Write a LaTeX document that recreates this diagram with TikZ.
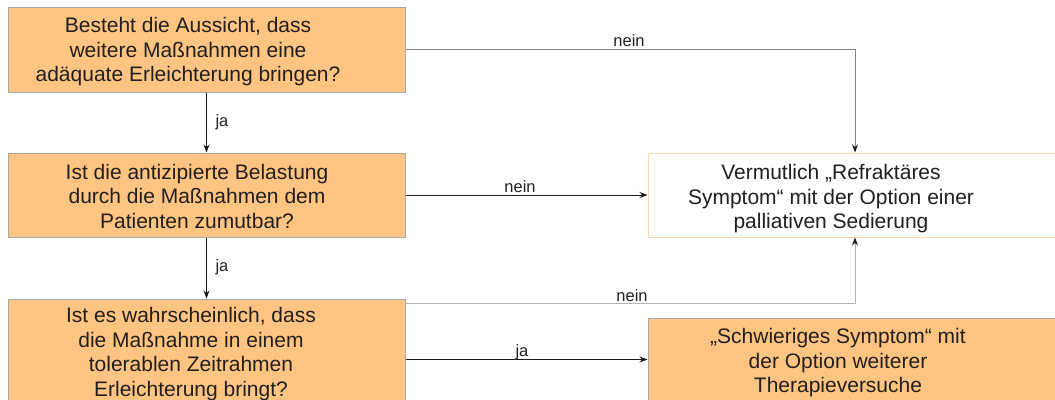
\documentclass[tikz,border=0pt]{standalone}
\usepackage{fontspec}
\setmainfont{Liberation Sans}
\usetikzlibrary{arrows.meta,calc}
\definecolor{boxfill}{HTML}{FDC581}
\definecolor{boxline}{HTML}{A6A6A6}
\definecolor{softline}{HTML}{FAD7AE}
\definecolor{ink}{HTML}{231F20}
\definecolor{linkA}{HTML}{808080}
\definecolor{linkB}{HTML}{B3B3B3}
\definecolor{linkC}{HTML}{1A1A1A}
\tikzset{
  qbox/.style={draw=boxline, fill=boxfill, line width=1pt, rectangle, inner sep=0pt},
  rbox/.style={draw=softline, fill=white, line width=1pt, rectangle, inner sep=0pt},
  txt/.style={align=center, text=ink, inner sep=0pt, font=\fontsize{21}{24.5}\selectfont},
  lbl/.style={text=ink, inner sep=0pt, font=\fontsize{16.5}{18}\selectfont},
  tip/.style={-{Stealth[length=8pt,width=6pt,color=linkC]}},
}
\begin{document}
\begin{tikzpicture}[x=1pt,y=-1pt]
\useasboundingbox (0,0) rectangle (1055,399);
\clip (0,0) rectangle (1055,399);

% decision boxes
\node[qbox, minimum width=397pt, minimum height=85pt] (b1) at (206.5,49.5) {};
\node[qbox, minimum width=397pt, minimum height=84pt] (b2) at (206.5,195) {};
\node[qbox, minimum width=397pt, minimum height=111pt] (b3) at (206.5,354.5) {};

% outcome boxes
\node[rbox, minimum width=414pt, minimum height=84pt] (rf) at (855,195) {};
\node[qbox, minimum width=414pt, minimum height=92pt] (sx) at (855,364) {};

% box texts
\node[txt] (t1) at (188,52) {Besteht die Aussicht, dass\\weitere Maßnahmen eine\\adäquate Erleichterung bringen?};
\node[txt] (t2) at (197,196) {Ist die antizipierte Belastung\\durch die Maßnahmen dem\\Patienten zumutbar?};
\node[txt] (t3) at (191,354) {Ist es wahrscheinlich, dass\\die Maßnahme in einem\\tolerablen Zeitrahmen\\Erleichterung bringt?};
\node[txt] (t4) at (831,199) {Vermutlich „Refraktäres\\Symptom“ mit der Option einer\\palliativen Sedierung};
\node[txt] (t5) at (838,363) {„Schwieriges Symptom“ mit\\der Option weiterer\\Therapieversuche};

% connectors
\draw[tip, linkA, line width=1pt] (b1.east) -| (rf.north);
\draw[tip, linkC, line width=0.9pt] (b1.south) -- (b2.north);
\draw[tip, linkC, line width=0.9pt] (b2.east) -- (rf.west);
\draw[tip, linkC, line width=0.9pt] (b2.south) -- (b3.north);
\draw[tip, linkB, line width=1pt] ([yshift=-5pt]b3.north east) -| (rf.south);
\draw[tip, linkC, line width=0.9pt] ([yshift=-61pt]b3.north east) -- ([yshift=-61pt]b3.north east -| sx.west);

% connector labels
\node[lbl] (l1) at (629,41) {nein};
\node[lbl] (l2) at (222,122) {ja};
\node[lbl] (l3) at (520,187) {nein};
\node[lbl] (l4) at (222,267) {ja};
\node[lbl] (l5) at (632,296) {nein};
\node[lbl] (l6) at (522,352) {ja};
\end{tikzpicture}
\end{document}
